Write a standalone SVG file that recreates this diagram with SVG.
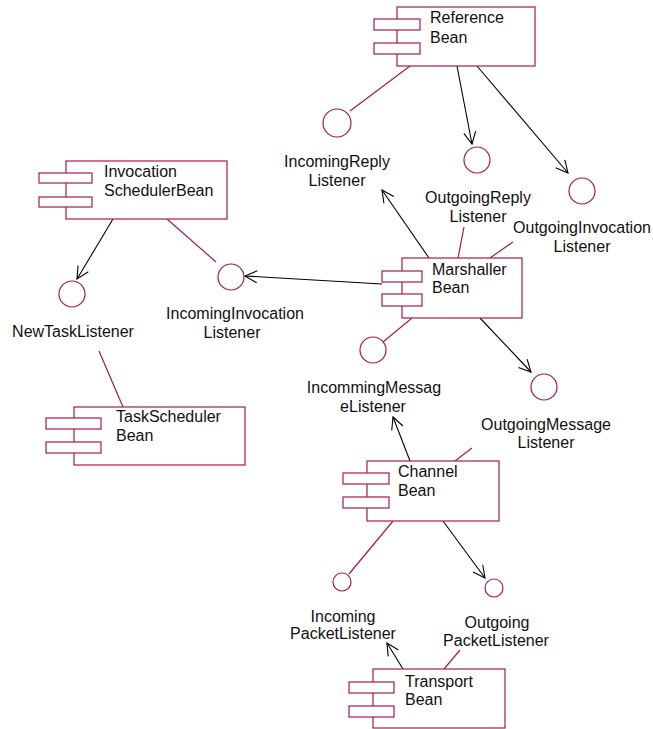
<svg xmlns="http://www.w3.org/2000/svg" width="653" height="729" viewBox="0 0 653 729">
<defs>
<style>
.box{fill:#fff;stroke:#a51c46;stroke-width:1.2}
.iface{fill:#fff;stroke:#a51c46;stroke-width:1.2}
.dep{stroke:#a51c46;stroke-width:1.2;fill:none}
.use{stroke:#000;stroke-width:1.1;fill:none;marker-end:url(#arr)}
text{font-family:"Liberation Sans",Arial,sans-serif;font-size:16px;fill:#111}
.c{text-anchor:middle}
</style>
<marker id="arr" markerUnits="userSpaceOnUse" markerWidth="16" markerHeight="16" viewBox="-14 -8 16 16" refX="0" refY="0" orient="auto">
<path d="M-12,-6 L0,0 L-12,6" fill="none" stroke="#000" stroke-width="1.1"/>
</marker>
</defs>
<rect width="653" height="729" fill="#fff"/>
<g id="connectors">
<line class="dep" x1="410" y1="66" x2="350" y2="111"/>
<line class="use" x1="457" y1="66" x2="472" y2="144"/>
<line class="use" x1="477" y1="66" x2="568" y2="173"/>
<line class="use" x1="429" y1="258" x2="382" y2="190"/>
<line class="dep" x1="458" y1="258" x2="464" y2="227"/>
<line class="dep" x1="490" y1="258" x2="513" y2="242"/>
<line class="use" x1="382" y1="284" x2="245" y2="276"/>
<line class="dep" x1="412" y1="318" x2="383" y2="342"/>
<line class="use" x1="480" y1="318" x2="531" y2="372"/>
<line class="use" x1="113" y1="219" x2="77" y2="279"/>
<line class="dep" x1="167" y1="219" x2="216" y2="262"/>
<line class="dep" x1="99" y1="351" x2="123" y2="407"/>
<line class="use" x1="410" y1="461" x2="393" y2="417"/>
<line class="dep" x1="455" y1="461" x2="472" y2="448"/>
<line class="dep" x1="393" y1="521" x2="349" y2="574"/>
<line class="use" x1="443" y1="521" x2="485" y2="578"/>
<line class="use" x1="403" y1="669" x2="387" y2="643"/>
<line class="dep" x1="444" y1="669" x2="460" y2="650"/>
</g>
<g id="ReferenceBean">
<rect class="box" x="397" y="7" width="138" height="59"/>
<rect class="box" x="374" y="19" width="46" height="11"/>
<rect class="box" x="374" y="43" width="46" height="11"/>
<text x="430" y="23">Reference</text>
<text x="430" y="43">Bean</text>
</g>
<g id="InvocationSchedulerBean">
<rect class="box" x="66" y="161" width="161" height="58"/>
<rect class="box" x="39" y="173" width="53" height="10"/>
<rect class="box" x="39" y="197" width="53" height="10"/>
<text x="104" y="177">Invocation</text>
<text x="104" y="196">SchedulerBean</text>
</g>
<g id="MarshallerBean">
<rect class="box" x="402" y="258" width="120" height="60"/>
<rect class="box" x="382" y="271" width="40" height="11"/>
<rect class="box" x="382" y="294" width="40" height="12"/>
<text x="432" y="275">Marshaller</text>
<text x="432" y="293">Bean</text>
</g>
<g id="ChannelBean">
<rect class="box" x="367" y="461" width="132" height="60"/>
<rect class="box" x="343" y="473" width="46" height="11"/>
<rect class="box" x="343" y="497" width="46" height="11"/>
<text x="398" y="477">Channel</text>
<text x="398" y="496">Bean</text>
</g>
<g id="TransportBean">
<rect class="box" x="373" y="669" width="132" height="59"/>
<rect class="box" x="349" y="682" width="45" height="11"/>
<rect class="box" x="349" y="706" width="45" height="11"/>
<text x="405" y="687">Transport</text>
<text x="405" y="705">Bean</text>
</g>
<g id="TaskSchedulerBean">
<rect class="box" x="74" y="407" width="171" height="58"/>
<rect class="box" x="46" y="418" width="55" height="11"/>
<rect class="box" x="46" y="442" width="55" height="11"/>
<text x="116" y="422">TaskScheduler</text>
<text x="116" y="441">Bean</text>
</g>
<g id="IncomingReplyListener">
<circle class="iface" cx="337" cy="123" r="14"/>
<text class="c" x="337" y="167">IncomingReply</text>
<text class="c" x="337" y="186">Listener</text>
</g>
<g id="OutgoingReplyListener">
<circle class="iface" cx="477" cy="160" r="13"/>
<text class="c" x="478" y="203">OutgoingReply</text>
<text class="c" x="478" y="222">Listener</text>
</g>
<g id="OutgoingInvocationListener">
<circle class="iface" cx="582" cy="191" r="13"/>
<text class="c" x="582" y="233">OutgoingInvocation</text>
<text class="c" x="582" y="252">Listener</text>
</g>
<g id="NewTaskListener">
<circle class="iface" cx="72" cy="294" r="13"/>
<text class="c" x="73" y="337">NewTaskListener</text>
</g>
<g id="IncomingInvocationListener">
<circle class="iface" cx="231" cy="277" r="13"/>
<text class="c" x="235" y="319">IncomingInvocation</text>
<text class="c" x="232" y="338">Listener</text>
</g>
<g id="IncommingMessageListener">
<circle class="iface" cx="373" cy="350" r="13"/>
<text class="c" x="374" y="393">IncommingMessag</text>
<text class="c" x="373" y="412">eListener</text>
</g>
<g id="OutgoingMessageListener">
<circle class="iface" cx="544" cy="387" r="13"/>
<text class="c" x="546" y="430">OutgoingMessage</text>
<text class="c" x="546" y="448">Listener</text>
</g>
<g id="IncomingPacketListener">
<circle class="iface" cx="342" cy="582" r="9"/>
<text class="c" x="343" y="622">Incoming</text>
<text class="c" x="343" y="639">PacketListener</text>
</g>
<g id="OutgoingPacketListener">
<circle class="iface" cx="494" cy="588" r="9"/>
<text class="c" x="497" y="628">Outgoing</text>
<text class="c" x="496" y="646">PacketListener</text>
</g>
</svg>
